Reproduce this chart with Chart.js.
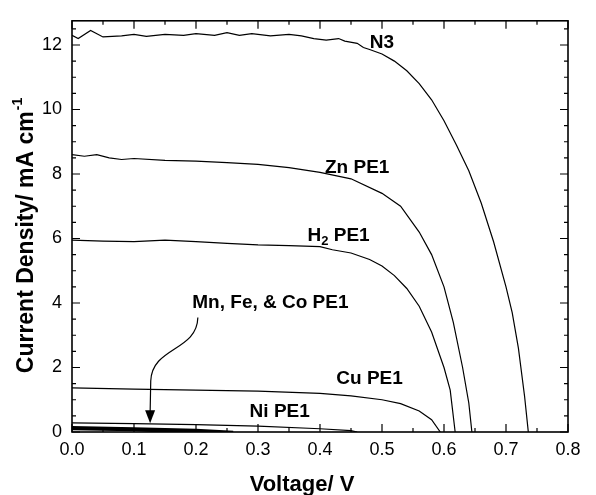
<!DOCTYPE html>
<html><head><meta charset="utf-8">
<script src="https://cdn.jsdelivr.net/npm/chart.js@4.4.1/dist/chart.umd.min.js"></script>
<style>html,body{margin:0;padding:0;background:#fff;}#wrap{width:596px;height:495px;}</style>
</head><body><div id="wrap"><canvas id="c" width="596" height="495"></canvas></div>
<script>
// ---- data (Voltage / V, Current density / mA cm^-1) ----
const n3V = [0,0.01,0.03,0.05,0.08,0.10,0.12,0.15,0.18,0.20,0.23,0.25,0.27,0.29,0.32,0.35,0.37,0.39,0.41,0.43,0.44,0.46,0.47,0.48,0.50,0.52,0.54,0.56,0.58,0.60,0.62,0.64,0.66,0.68,0.70,0.71,0.72,0.73,0.736];
const n3J = [12.3,12.2,12.45,12.25,12.28,12.33,12.27,12.33,12.3,12.35,12.3,12.38,12.3,12.35,12.28,12.33,12.28,12.2,12.15,12.2,12.12,12.05,11.92,11.86,11.72,11.5,11.2,10.8,10.3,9.65,8.9,8.1,7.1,5.9,4.5,3.7,2.6,1.1,0];
const znV = [0,0.02,0.04,0.06,0.08,0.10,0.15,0.20,0.25,0.30,0.35,0.40,0.45,0.50,0.53,0.56,0.58,0.60,0.615,0.63,0.64,0.645];
const znJ = [8.6,8.55,8.6,8.5,8.45,8.48,8.42,8.4,8.35,8.3,8.2,8.05,7.85,7.4,7.0,6.2,5.5,4.5,3.4,2.0,0.9,0];
const h2V = [0,0.05,0.10,0.15,0.20,0.25,0.30,0.35,0.40,0.42,0.45,0.48,0.50,0.52,0.54,0.56,0.58,0.60,0.61,0.618];
const h2J = [5.95,5.92,5.9,5.95,5.9,5.85,5.8,5.78,5.75,5.65,5.55,5.35,5.15,4.85,4.45,3.9,3.1,2.0,1.3,0];
const cuV = [0,0.10,0.20,0.30,0.40,0.45,0.50,0.53,0.56,0.58,0.594];
const cuJ = [1.37,1.33,1.3,1.27,1.2,1.12,1.0,0.88,0.65,0.38,0];
const niV = [0,0.10,0.20,0.30,0.40,0.45,0.46];
const niJ = [0.28,0.26,0.23,0.18,0.10,0.04,0];
const mnV = [0,0.10,0.20,0.26];
const mnJ = [0.15,0.11,0.06,0];
const feV = [0,0.10,0.20,0.22];
const feJ = [0.12,0.08,0.03,0];
const coV = [0,0.10,0.18];
const coJ = [0.09,0.06,0];
const xTickValues = [0,0.1,0.2,0.3,0.4,0.5,0.6,0.7,0.8];
const yTickValues = [0,2,4,6,8,10,12];
const xMinorStep = 0.05, yMinorStep = 0.5;
// annotation labels ("|...|" marks a subscript), positions in data units
const labelTexts = ["N3","Zn PE1","H|2| PE1","Mn, Fe, & Co PE1","Cu PE1","Ni PE1"];
const labelV = [0.5,0.46,0.43,0.32,0.48,0.335];
const labelJ = [12.08,8.2,6.1,4.0,1.65,0.62];
const arrowV = [0.203,0.2016,0.129,0.127,0.126];
const arrowJ = [3.55,2.5,2.65,1.58,0.27];

const FONT = '"Liberation Sans", Arial, Helvetica, sans-serif';
function pts(V,J){return V.map((v,i)=>({x:v,y:J[i]}));}
function ds(V,J,w){return {data:pts(V,J),borderColor:'#000',borderWidth:w,pointRadius:0,fill:false,tension:0,showLine:true};}

const decor = {
  id:'decor',
  afterDraw(chart){
    const ctx=chart.ctx, xs=chart.scales.x, ys=chart.scales.y, a=chart.chartArea;
    ctx.save();
    ctx.strokeStyle='#000'; ctx.fillStyle='#000';
    ctx.lineWidth=1.6;
    ctx.strokeRect(a.left,a.top,a.right-a.left,a.bottom-a.top);
    ctx.lineWidth=1.2;
    ctx.beginPath();
    for(let v=0; v<=0.8+1e-9; v+=xMinorStep){
      const px=xs.getPixelForValue(v);
      const major = Math.abs(v*10-Math.round(v*10))<1e-6;
      const L = major?8:4;
      ctx.moveTo(px,a.bottom); ctx.lineTo(px,a.bottom-L);
      ctx.moveTo(px,a.top); ctx.lineTo(px,a.top+L);
    }
    for(let v=0; v<=ys.max+1e-9; v+=yMinorStep){
      const py=ys.getPixelForValue(v);
      const major = Math.abs(v/2-Math.round(v/2))<1e-6;
      const L = major?8:4;
      ctx.moveTo(a.left,py); ctx.lineTo(a.left+L,py);
      ctx.moveTo(a.right,py); ctx.lineTo(a.right-L,py);
    }
    ctx.stroke();
    ctx.textBaseline='middle';
    labelTexts.forEach((t,i)=>{
      const x=xs.getPixelForValue(labelV[i]), y=ys.getPixelForValue(labelJ[i]);
      const parts=t.split('|');
      const big='bold 19px '+FONT, small='bold 13px '+FONT;
      let w=0;
      parts.forEach((p,k)=>{ctx.font=(k%2)?small:big; w+=ctx.measureText(p).width;});
      let cx=x-w/2;
      parts.forEach((p,k)=>{
        ctx.font=(k%2)?small:big; ctx.textAlign='left';
        ctx.fillText(p,cx,(k%2)?y+6:y);
        cx+=ctx.measureText(p).width;
      });
    });
    const P=arrowV.map((v,i)=>[xs.getPixelForValue(v),ys.getPixelForValue(arrowJ[i])]);
    ctx.lineWidth=1.2;
    ctx.beginPath();
    ctx.moveTo(P[0][0],P[0][1]);
    ctx.bezierCurveTo(P[1][0],P[1][1],P[2][0],P[2][1],P[3][0],P[3][1]);
    ctx.lineTo(P[4][0],P[4][1]-10);
    ctx.stroke();
    ctx.beginPath();
    ctx.moveTo(P[4][0],P[4][1]);
    ctx.lineTo(P[4][0]-5,P[4][1]-13);
    ctx.lineTo(P[4][0]+5,P[4][1]-13);
    ctx.closePath(); ctx.fill();
    ctx.font='bold 22px '+FONT; ctx.textAlign='center'; ctx.textBaseline='middle';
    ctx.fillText('Voltage/ V',302,485);
    ctx.save();
    ctx.translate(27,236);
    ctx.rotate(-Math.PI/2);
    const main='Current Density/ mA cm', sup='-1';
    ctx.font='bold 23px '+FONT; const w1=ctx.measureText(main).width;
    ctx.font='bold 14px '+FONT; const w2=ctx.measureText(sup).width;
    let sx=-(w1+w2)/2;
    ctx.textAlign='left';
    ctx.font='bold 23px '+FONT; ctx.fillText(main,sx,0);
    ctx.font='bold 14px '+FONT; ctx.fillText(sup,sx+w1+1,-9);
    ctx.restore();
    ctx.restore();
  }
};

new Chart(document.getElementById('c'),{
  type:'scatter',
  data:{datasets:[ds(n3V,n3J,1.2),ds(znV,znJ,1.2),ds(h2V,h2J,1.2),ds(cuV,cuJ,1.2),ds(niV,niJ,1.2),ds(mnV,mnJ,2.5),ds(feV,feJ,2.5),ds(coV,coJ,2.5)]},
  options:{
    responsive:false, animation:false,
    layout:{padding:{top:16,right:28,left:0,bottom:0}},
    plugins:{legend:{display:false},tooltip:{enabled:false}},
    scales:{
      x:{type:'linear',min:0,max:0.8,
        afterBuildTicks:s=>{s.ticks=xTickValues.map(v=>({value:v}));},
        afterFit:s=>{s.height=63;},
        grid:{display:false,drawTicks:false},border:{display:false},
        ticks:{color:'#000',font:{family:FONT,size:18},padding:7,maxRotation:0,autoSkip:false,callback:v=>Number(v).toFixed(1)}},
      y:{type:'linear',min:0,max:12.75,
        afterBuildTicks:s=>{s.ticks=yTickValues.map(v=>({value:v}));},
        afterFit:s=>{s.width=72;},
        grid:{display:false,drawTicks:false},border:{display:false},
        ticks:{color:'#000',font:{family:FONT,size:18},padding:10,autoSkip:false,callback:v=>String(v)}}
    }
  },
  plugins:[decor]
});
</script></body></html>
